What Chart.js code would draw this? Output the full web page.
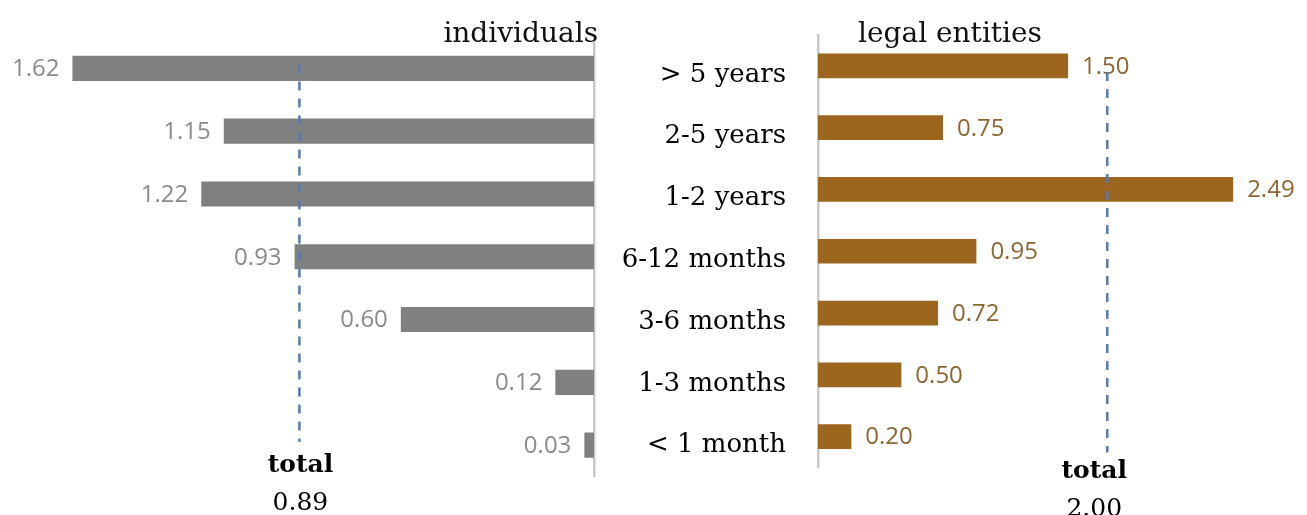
<!DOCTYPE html>
<html><head><meta charset="utf-8">
<script src="https://cdn.jsdelivr.net/npm/chart.js@4/dist/chart.umd.min.js"></script>
<style>
html,body{margin:0;padding:0;background:#fff;width:1307px;height:515px;overflow:hidden}
#left{position:absolute;left:0;top:0}
#right{position:absolute;left:600px;top:0}
</style></head><body>
<canvas id="left" width="600" height="515"></canvas>
<canvas id="right" width="707" height="515"></canvas>
<script>
const categories = ['> 5 years', '2-5 years', '1-2 years', '6-12 months', '3-6 months', '1-3 months', '< 1 month'];
const individuals = [1.62, 1.15, 1.22, 0.93, 0.60, 0.12, 0.03];
const legalEntities = [1.50, 0.75, 2.49, 0.95, 0.72, 0.50, 0.20];
const panelTitles = ['individuals', 'legal entities'];
const totalLabels = ['0.89', '2.00'];
const totalMarkers = [0.915, 1.735];

const SERIF = '"DejaVu Serif", serif';
const NUMF = '"Open Sans", sans-serif';

function overlayPlugin(side) {
  return {
    id: 'overlay' + side,
    afterDatasetsDraw(chart) {
      const ctx = chart.ctx;
      const meta = chart.getDatasetMeta(0);
      const vals = chart.data.datasets[0].data;
      ctx.save();
      // value labels
      ctx.font = '24px ' + NUMF;
      ctx.textBaseline = 'middle';
      meta.data.forEach((el, i) => {
        const txt = vals[i].toFixed(2);
        if (side === 0) {
          ctx.fillStyle = '#8a8a8a';
          ctx.textAlign = 'right';
          ctx.fillText(txt, el.x - 13, el.y + 1);
        } else {
          ctx.fillStyle = '#8d6630';
          ctx.textAlign = 'left';
          ctx.fillText(txt, el.x + 14, el.y + 1);
        }
      });
      // dashed total line
      const xs = chart.scales.x.getPixelForValue(totalMarkers[side]);
      const ys = chart.scales.y;
      const y0 = ys.getPixelForValue(0) + (side === 0 ? -4 : 6);
      const y1 = ys.getPixelForValue(categories.length - 1) + (side === 0 ? -3 : 16);
      ctx.strokeStyle = '#5a7aa8';
      ctx.lineWidth = 2.5;
      ctx.setLineDash([9, 8]);
      ctx.beginPath();
      ctx.moveTo(xs, y0);
      ctx.lineTo(xs, y1);
      ctx.stroke();
      ctx.setLineDash([]);
      // total text
      const tx = xs + (side === 0 ? 1 : -13);
      const ty = side === 0 ? 472 : 478;
      ctx.fillStyle = '#000';
      ctx.textAlign = 'center';
      ctx.textBaseline = 'alphabetic';
      ctx.font = 'bold 25px ' + SERIF;
      ctx.fillText('total', tx, ty);
      ctx.font = '25px ' + SERIF;
      ctx.fillText(totalLabels[side], tx, ty + 38);
      // panel title
      ctx.font = '28px ' + SERIF;
      ctx.fillStyle = '#111';
      if (side === 0) {
        ctx.textAlign = 'right';
        ctx.fillText(panelTitles[0], 598, 42);
      } else {
        ctx.textAlign = 'center';
        ctx.fillText(panelTitles[1], 350, 42);
      }
      ctx.restore();
    }
  };
}

function fixAxis(width) {
  return s => { s.width = width; s.paddingTop = 0; s.paddingBottom = 0; };
}

new Chart(document.getElementById('left'), {
  type: 'bar',
  data: {
    labels: categories,
    datasets: [{ data: individuals, backgroundColor: '#808080', borderWidth: 0,
      barPercentage: 1, categoryPercentage: 0.4 }]
  },
  options: {
    indexAxis: 'y',
    responsive: false,
    animation: false,
    layout: { padding: { left: 0, right: 6, top: 37, bottom: 38.5 } },
    plugins: { legend: { display: false }, tooltip: { enabled: false }, title: { display: false } },
    scales: {
      x: { display: false, reverse: true, min: 0, max: 1.845 },
      y: {
        position: 'right',
        grid: { display: false, drawTicks: false },
        ticks: { display: false },
        border: { display: true, color: '#c8c8c8', width: 2.5 },
        afterFit: fixAxis(0)
      }
    }
  },
  plugins: [overlayPlugin(0)]
});

new Chart(document.getElementById('right'), {
  type: 'bar',
  data: {
    labels: categories,
    datasets: [{ data: legalEntities, backgroundColor: '#9c661f', borderWidth: 0,
      barPercentage: 1, categoryPercentage: 0.4 }]
  },
  options: {
    indexAxis: 'y',
    responsive: false,
    animation: false,
    layout: { padding: { left: 0, right: 0, top: 35, bottom: 47.5 } },
    plugins: { legend: { display: false }, tooltip: { enabled: false }, title: { display: false } },
    scales: {
      x: { display: false, min: 0, max: 2.933 },
      y: {
        position: 'left',
        grid: { display: false, drawTicks: false },
        ticks: { color: '#000', font: { family: SERIF, size: 26 }, padding: 32, labelOffset: 9, autoSkip: false },
        border: { display: true, color: '#c8c8c8', width: 2.5 },
        afterFit: fixAxis(218)
      }
    }
  },
  plugins: [overlayPlugin(1)]
});
</script>
</body></html>
